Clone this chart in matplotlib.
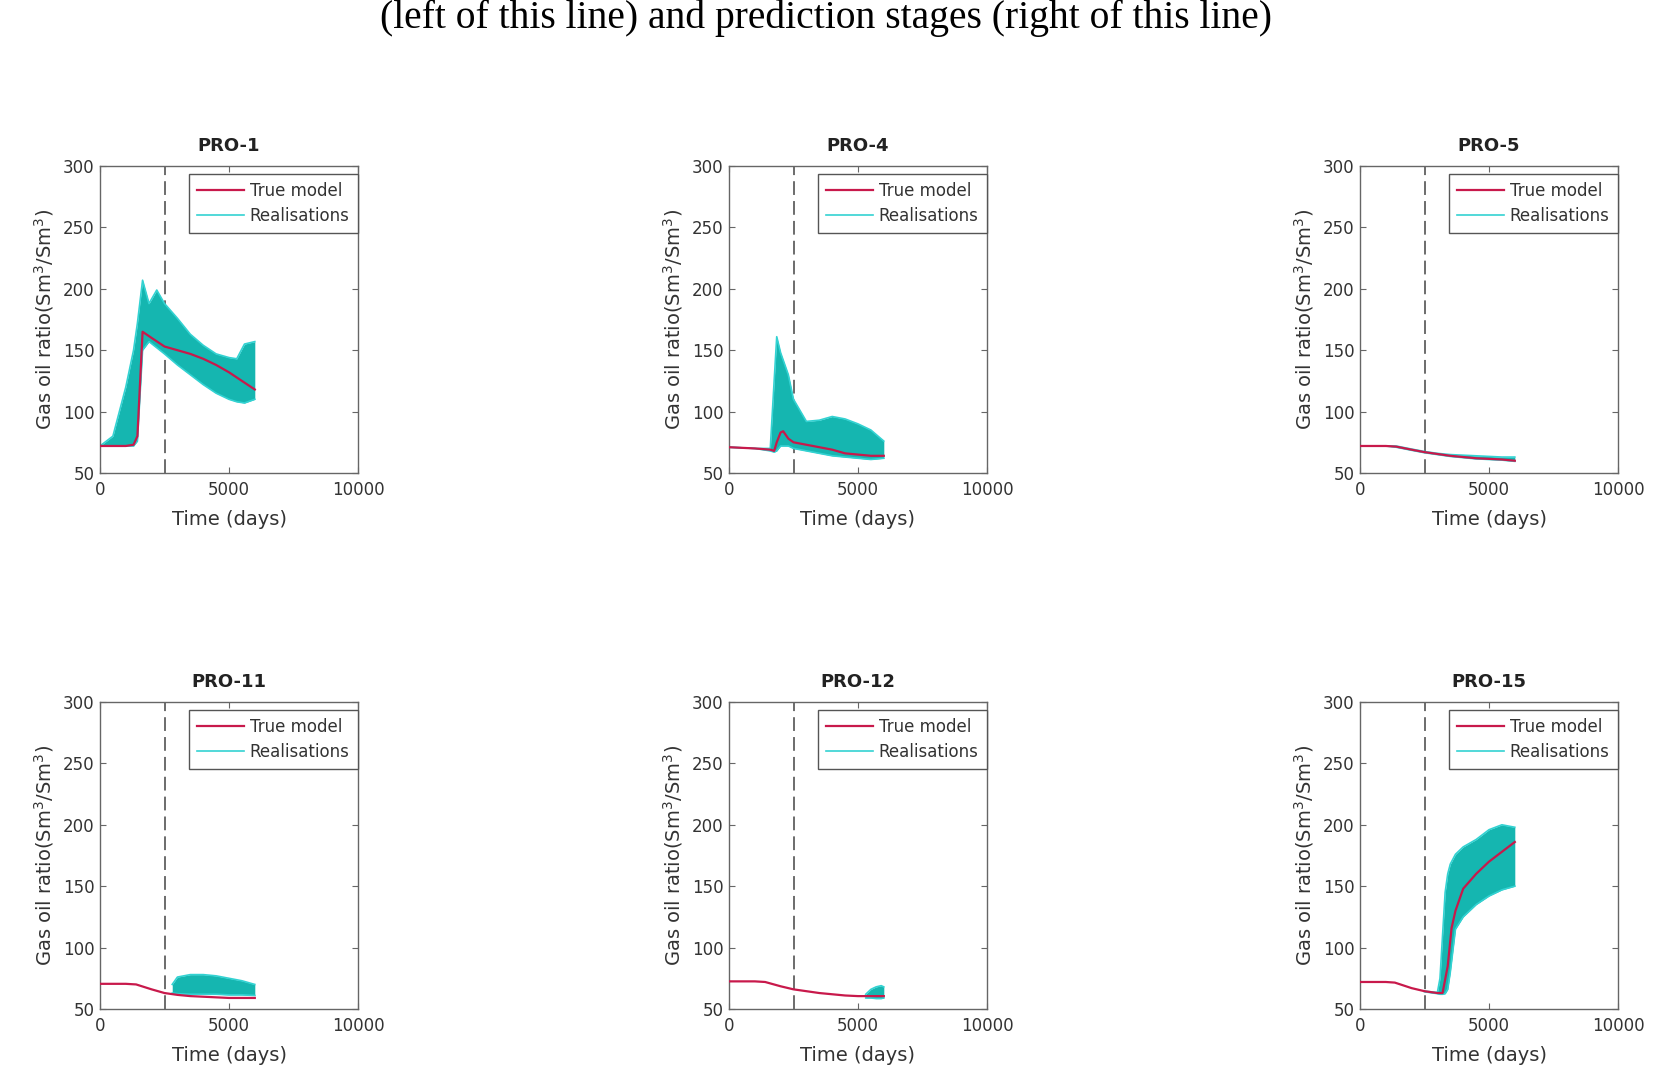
import matplotlib

matplotlib.use("Agg")
import matplotlib.pyplot as plt

# ---- data (days, Sm3/Sm3) ----
WELLS = ["PRO-1", "PRO-4", "PRO-5", "PRO-11", "PRO-12", "PRO-15"]
SPLIT_DAY = 2500

pro1_t_true = [0, 500, 1000, 1300, 1450, 1650, 2000, 2500, 3000, 3500, 4000, 4500, 5000, 5500, 6000]
pro1_true = [72, 72, 72, 73, 80, 165, 160, 153, 150, 147, 143, 138, 132, 125, 118]
pro1_t_band = [0, 500, 1000, 1300, 1450, 1650, 1900, 2200, 2500, 3000, 3500, 4000, 4500, 5000, 5300, 5600, 6000]
pro1_hi = [72, 80, 120, 150, 172, 207, 188, 199, 188, 176, 163, 154, 147, 144, 143, 155, 157]
pro1_lo = [72, 72, 72, 72, 76, 150, 157, 152, 147, 138, 130, 122, 115, 110, 108, 107, 110]

pro4_t_true = [0, 1000, 1600, 1750, 1850, 2000, 2100, 2300, 2500, 3000, 3500, 4000, 4500, 5000, 5500, 6000]
pro4_true = [71, 70, 69, 68, 75, 83, 84, 78, 75, 73, 71, 69, 66, 65, 64, 64]
pro4_t_band = [0, 1000, 1600, 1750, 1850, 2000, 2300, 2500, 3000, 3500, 4000, 4500, 5000, 5500, 6000]
pro4_hi = [71, 70, 70, 125, 161, 148, 130, 110, 92, 93, 96, 94, 90, 85, 76]
pro4_lo = [71, 70, 68, 67, 68, 72, 72, 70, 68, 66, 64, 63, 62, 61, 62]

pro5_t_true = [0, 1000, 1400, 2000, 2500, 3000, 3500, 4000, 4500, 5000, 5500, 6000]
pro5_true = [72, 72, 71.5, 69, 67, 65.5, 64, 63, 62, 61.5, 61, 60]
pro5_t_band = [0, 1000, 1400, 2000, 2500, 3000, 3500, 4000, 4500, 5000, 5500, 6000]
pro5_hi = [72, 72, 72, 69.5, 67.5, 66, 65, 64.5, 64, 63.5, 63, 63]
pro5_lo = [72, 72, 71, 68.5, 66.5, 65, 63.5, 62.5, 61.5, 61, 60.5, 59.5]

pro11_t_true = [0, 1000, 1400, 2000, 2500, 3000, 3500, 4000, 4500, 5000, 5500, 6000]
pro11_true = [70.5, 70.5, 70, 66, 63, 61.5, 60.5, 60, 59.5, 59, 59, 59]
pro11_t_band = [2800, 3000, 3500, 4000, 4500, 5000, 5500, 6000]
pro11_hi = [70, 76, 78, 78, 77, 75, 73, 70]
pro11_lo = [63, 62.5, 62, 62, 62, 61.5, 61.5, 61]

pro12_t_true = [0, 1000, 1400, 2000, 2500, 3000, 3500, 4000, 4500, 5000, 5500, 6000]
pro12_true = [72.5, 72.5, 72, 68.5, 66, 64.5, 63, 62, 61, 60.5, 60.5, 60.5]
pro12_t_band = [5300, 5500, 5700, 5900, 6000]
pro12_hi = [62, 66, 68, 69, 68]
pro12_lo = [59, 59, 58.5, 58.5, 59]

pro15_t_true = [0, 1000, 1350, 2000, 2500, 3000, 3200, 3400, 3550, 3700, 4000, 4500, 5000, 5500, 6000]
pro15_true = [72, 72, 71.5, 67, 64.5, 63, 63, 85, 116, 130, 148, 160, 170, 178, 186]
pro15_t_band = [2500, 3000, 3100, 3200, 3300, 3400, 3500, 3700, 4000, 4500, 5000, 5500, 6000]
pro15_hi = [64.5, 63.5, 75, 110, 145, 160, 168, 176, 182, 188, 196, 200, 198]
pro15_lo = [64, 62.5, 62, 62, 62.5, 66, 80, 115, 125, 135, 142, 147, 150]

SERIES = {
    "PRO-1": (pro1_t_true, pro1_true, pro1_t_band, pro1_lo, pro1_hi),
    "PRO-4": (pro4_t_true, pro4_true, pro4_t_band, pro4_lo, pro4_hi),
    "PRO-5": (pro5_t_true, pro5_true, pro5_t_band, pro5_lo, pro5_hi),
    "PRO-11": (pro11_t_true, pro11_true, pro11_t_band, pro11_lo, pro11_hi),
    "PRO-12": (pro12_t_true, pro12_true, pro12_t_band, pro12_lo, pro12_hi),
    "PRO-15": (pro15_t_true, pro15_true, pro15_t_band, pro15_lo, pro15_hi),
}

TEAL = "#15b6b0"
TEAL_EDGE = "#33d2d2"
RED = "#c8194b"
TXT = "#333333"

W, H = 1662, 1082
COL_LEFT = [100, 729, 1360]
ROW_TOP = [166, 702]
AX_W, AX_H = 258, 307

fig = plt.figure(figsize=(W / 100, H / 100), dpi=100)
fig.text(0.497, 1 - 18 / H,
         "(left of this line) and prediction stages (right of this line)",
         ha="center", va="center", fontsize=28.5, family="Liberation Serif",
         color="black")

for i, well in enumerate(WELLS):
    r, c = divmod(i, 3)
    left = COL_LEFT[c] / W
    bottom = 1 - (ROW_TOP[r] + AX_H) / H
    ax = fig.add_axes([left, bottom, AX_W / W, AX_H / H])
    t_true, y_true, t_band, lo, hi = SERIES[well]

    ax.fill_between(t_band, lo, hi, color=TEAL, lw=0, zorder=2)
    ax.plot(t_band, hi, color=TEAL_EDGE, lw=1.2, zorder=2.1, label="Realisations")
    ax.plot(t_band, lo, color=TEAL_EDGE, lw=1.2, zorder=2.1)
    ax.plot(t_true, y_true, color=RED, lw=1.6, zorder=3, label="True model")
    ax.axvline(SPLIT_DAY, color="#444444", lw=1.1, dashes=(9, 4), zorder=1)

    ax.set_xlim(0, 10000)
    ax.set_ylim(50, 300)
    ax.set_xticks([0, 5000, 10000])
    ax.set_yticks(range(50, 301, 50))
    ax.tick_params(direction="in", top=True, right=True, length=4, width=0.8,
                   labelsize=12, colors="#666666", labelcolor=TXT)
    ax.tick_params(axis="x", pad=6)
    ax.tick_params(axis="y", pad=4)
    for s in ax.spines.values():
        s.set_color("#666666")
        s.set_linewidth(1.0)

    ax.set_title(well, fontsize=13, fontweight="bold", color="#222222", pad=11)
    ax.set_xlabel("Time (days)", fontsize=14, color=TXT, labelpad=8)
    ax.set_ylabel("Gas oil ratio(Sm$^3$/Sm$^3$)", fontsize=14, color=TXT, labelpad=5)

    handles, labels = ax.get_legend_handles_labels()
    order = [labels.index("True model"), labels.index("Realisations")]
    leg = ax.legend([handles[k] for k in order], [labels[k] for k in order],
                    loc="upper right", bbox_to_anchor=(1.0, 0.975), borderaxespad=0,
                    fontsize=12, frameon=True, fancybox=False, framealpha=1,
                    handlelength=2.8, handletextpad=0.35, labelspacing=0.4,
                    borderpad=0.5, labelcolor=TXT)
    leg.get_frame().set_edgecolor("#555555")
    leg.get_frame().set_linewidth(1.0)

fig.savefig("out.png", dpi=100)
